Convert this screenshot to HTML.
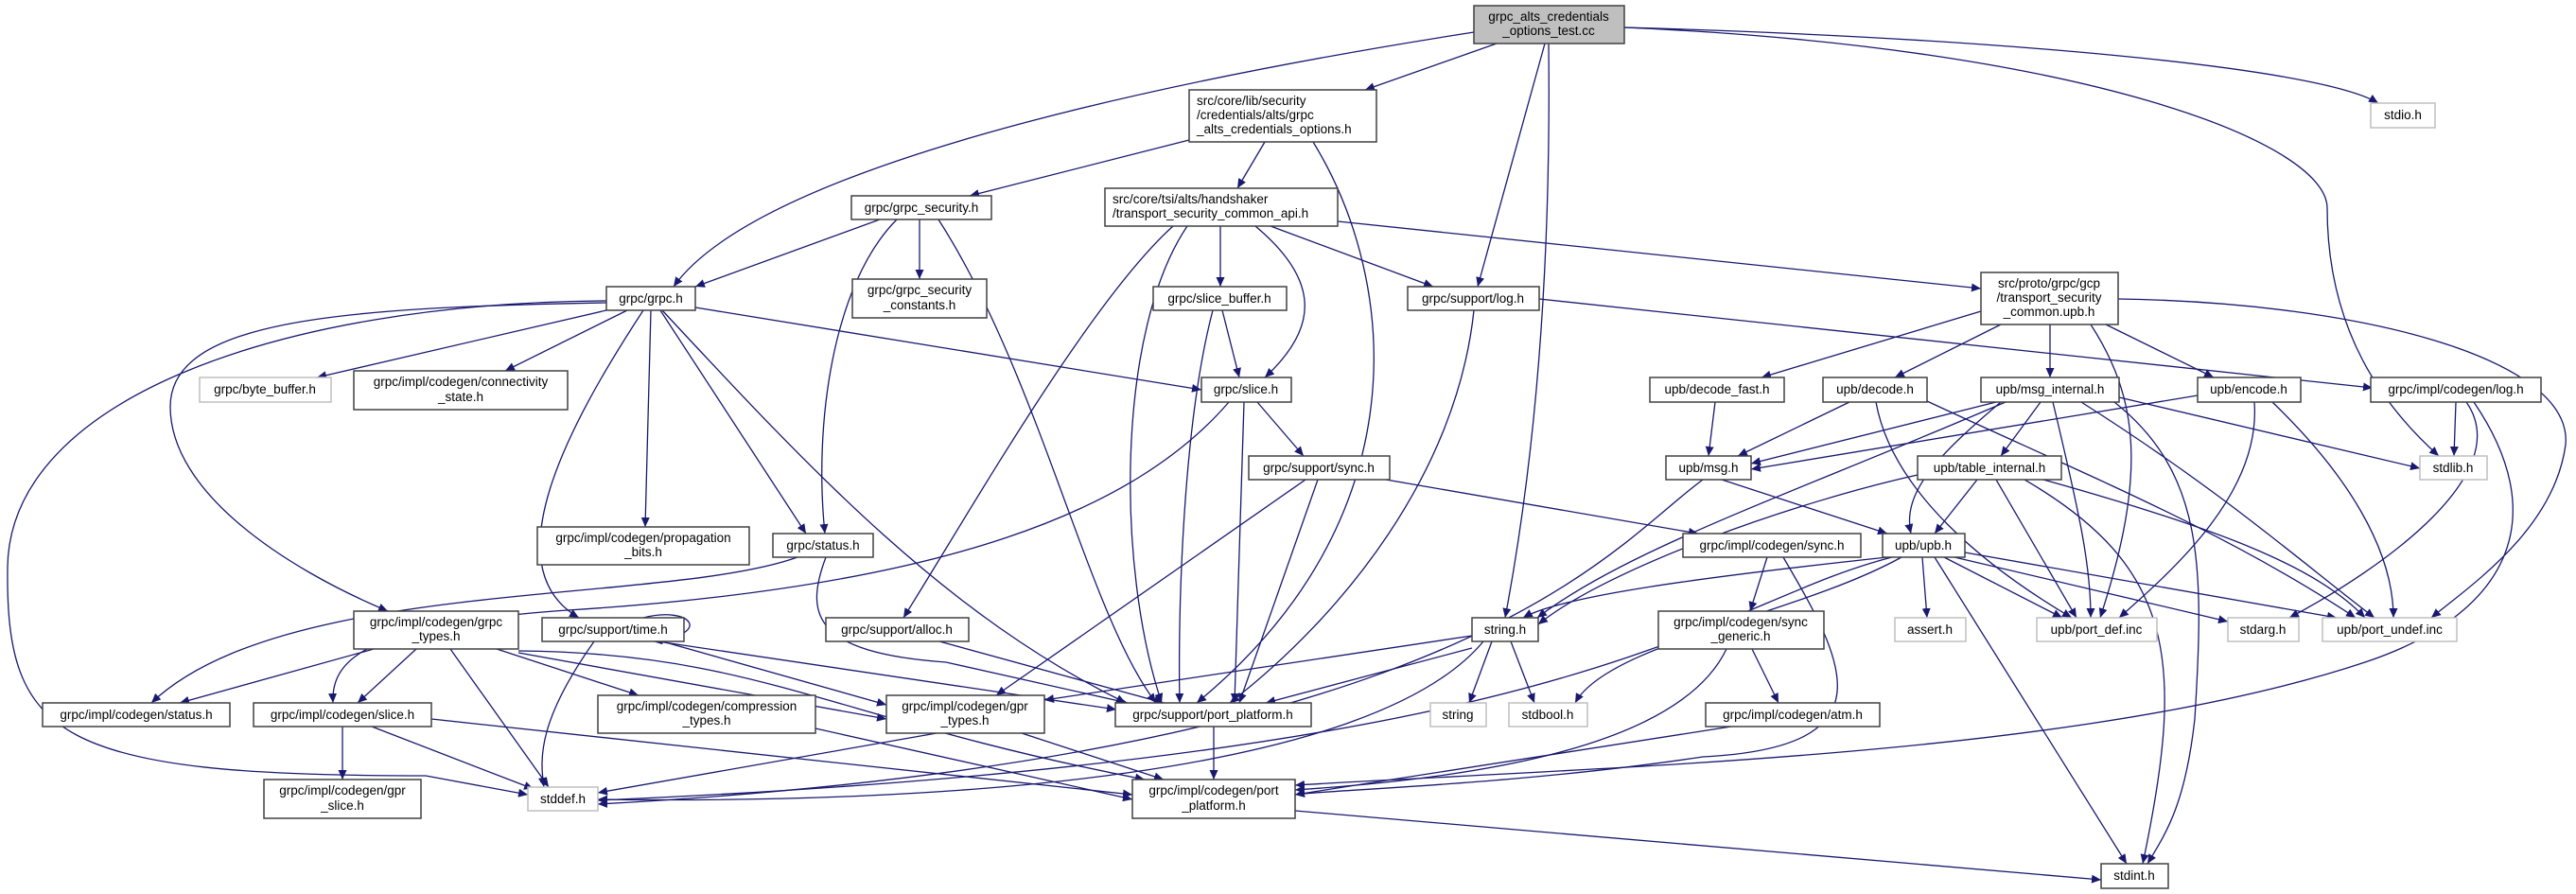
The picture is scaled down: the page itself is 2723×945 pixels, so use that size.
<!DOCTYPE html>
<html><head><meta charset="utf-8"><style>
html,body{margin:0;padding:0;background:#fff;}
svg{display:block;}
text{font-family:"Liberation Sans",sans-serif;font-size:13.5px;fill:#000;}
.n{fill:#fff;stroke:#404040;stroke-width:1.5;}
.g{fill:#fff;stroke:#bfbfbf;stroke-width:1.5;}
.m{fill:#bfbfbf;stroke:#404040;stroke-width:1.5;}
path.e{fill:none;stroke:#191970;stroke-width:1.3;marker-end:url(#a);}
</style></head><body>
<svg width="2723" height="945" viewBox="0 0 2723 945" xmlns="http://www.w3.org/2000/svg">
<defs><marker id="a" markerUnits="userSpaceOnUse" markerWidth="11" markerHeight="9" refX="10" refY="4.5" orient="auto"><path d="M0,0 L10,4.5 L0,9 z" fill="#191970"/></marker></defs>
<g>
<path class="e" d="M1558,34 C1200,90 800,180 712,303"/>
<path class="e" d="M1582,46 L1443,95"/>
<path class="e" d="M1633,46 L1562,303"/>
<path class="e" d="M1637,46 C1640,300 1620,500 1591,653"/>
<path class="e" d="M1717,29 C2100,40 2450,70 2514,109"/>
<path class="e" d="M1717,29 C2200,50 2460,150 2460,220 C2460,350 2520,430 2578,482"/>
<path class="e" d="M1257,148 L1025,207"/>
<path class="e" d="M1337,150 L1308,199"/>
<path class="e" d="M1388,150 C1480,300 1500,550 1265,743"/>
<path class="e" d="M930,232 L735,303"/>
<path class="e" d="M972,232 L972,295"/>
<path class="e" d="M948,232 C880,300 860,450 872,564"/>
<path class="e" d="M992,232 C1100,400 1150,650 1222,743"/>
<path class="e" d="M1290,239 L1290,303"/>
<path class="e" d="M1327,239 C1400,300 1390,350 1337,399"/>
<path class="e" d="M1343,239 L1515,303"/>
<path class="e" d="M1414,234 L2094,305"/>
<path class="e" d="M1240,239 C1150,320 1020,550 955,653"/>
<path class="e" d="M1255,239 C1180,350 1180,600 1228,743"/>
<path class="e" d="M641,328 L335,399"/>
<path class="e" d="M663,328 L534,392"/>
<path class="e" d="M735,325 L1270,412"/>
<path class="e" d="M641,320 C350,325 180,340 180,430 C180,520 300,600 410,646"/>
<path class="e" d="M641,318 C300,320 10,420 8,600 C6,780 60,820 450,820 L558,840"/>
<path class="e" d="M688,328 L682,557"/>
<path class="e" d="M698,328 L852,564"/>
<path class="e" d="M700,328 C860,500 1000,650 1190,743"/>
<path class="e" d="M680,328 C600,450 520,600 612,653"/>
<path class="e" d="M1292,328 L1310,399"/>
<path class="e" d="M1282,328 C1250,450 1245,650 1247,743"/>
<path class="e" d="M1329,425 L1378,482"/>
<path class="e" d="M1315,425 L1305,743"/>
<path class="e" d="M1299,425 C1200,540 1000,620 600,645 C380,660 350,700 352,743"/>
<path class="e" d="M1558,328 C1540,500 1420,650 1300,743"/>
<path class="e" d="M1627,316 L2508,410"/>
<path class="e" d="M1380,507 L1053,735"/>
<path class="e" d="M1393,507 L1310,743"/>
<path class="e" d="M1465,507 L1795,564"/>
<path class="e" d="M993,678 L1230,743"/>
<path class="e" d="M843,589 C700,640 300,610 160,743"/>
<path class="e" d="M873,589 C850,650 860,690 1000,700 L1192,743"/>
<path class="e" d="M395,686 L190,743"/>
<path class="e" d="M440,686 L378,743"/>
<path class="e" d="M476,686 L580,832"/>
<path class="e" d="M525,686 L675,735"/>
<path class="e" d="M548,690 L937,760"/>
<path class="e" d="M548,688 C800,690 880,760 1210,824"/>
<path class="e" d="M628,678 C570,760 570,800 575,832"/>
<path class="e" d="M680,653 C730,640 755,670 690,678"/>
<path class="e" d="M695,678 L1180,750"/>
<path class="e" d="M700,678 L937,745"/>
<path class="e" d="M362,768 L362,824"/>
<path class="e" d="M393,768 L564,834"/>
<path class="e" d="M456,760 L1197,840"/>
<path class="e" d="M862,770 L1197,845"/>
<path class="e" d="M990,775 L632,838"/>
<path class="e" d="M1080,775 L1230,824"/>
<path class="e" d="M1283,768 L1283,824"/>
<path class="e" d="M1577,678 L1553,743"/>
<path class="e" d="M1597,678 L1622,743"/>
<path class="e" d="M1556,685 L1338,743"/>
<path class="e" d="M1556,672 L1104,740"/>
<path class="e" d="M1568,678 C1450,820 1000,850 632,845"/>
<path class="e" d="M1868,589 L1850,646"/>
<path class="e" d="M1885,589 C1950,700 2000,790 1800,800 C1600,830 1400,835 1369,840"/>
<path class="e" d="M1852,686 L1880,743"/>
<path class="e" d="M1825,686 C1780,780 1600,820 1369,835"/>
<path class="e" d="M1830,768 L1369,840"/>
<path class="e" d="M1369,857 L2221,930"/>
<path class="e" d="M2094,329 L1862,399"/>
<path class="e" d="M2115,343 L2003,399"/>
<path class="e" d="M2167,343 L2167,399"/>
<path class="e" d="M2226,343 L2340,399"/>
<path class="e" d="M2210,343 C2260,420 2270,500 2220,653"/>
<path class="e" d="M2239,316 C2500,320 2720,380 2712,470 C2700,560 2610,620 2570,653"/>
<path class="e" d="M1813,425 L1806,482"/>
<path class="e" d="M1955,425 L1837,482"/>
<path class="e" d="M1983,425 C2000,520 2100,600 2190,653"/>
<path class="e" d="M2037,424 C2200,500 2350,560 2490,653"/>
<path class="e" d="M2110,425 L1851,490"/>
<path class="e" d="M2115,425 C2050,480 2010,520 2020,564"/>
<path class="e" d="M2157,425 L2115,482"/>
<path class="e" d="M2120,425 C1900,520 1720,580 1625,653"/>
<path class="e" d="M2170,425 C2200,550 2210,600 2210,653"/>
<path class="e" d="M2200,425 C2350,520 2440,600 2510,653"/>
<path class="e" d="M2240,420 L2558,495"/>
<path class="e" d="M2235,425 C2330,500 2330,600 2320,760 C2310,850 2290,880 2270,913"/>
<path class="e" d="M2323,418 L1851,496"/>
<path class="e" d="M2383,425 C2390,520 2300,600 2240,653"/>
<path class="e" d="M2402,425 C2480,500 2530,580 2530,653"/>
<path class="e" d="M2596,425 L2594,482"/>
<path class="e" d="M2607,425 C2660,500 2520,600 2420,653"/>
<path class="e" d="M2615,425 C2700,550 2650,650 2500,700 C2200,800 1700,810 1369,830"/>
<path class="e" d="M1820,507 L1995,564"/>
<path class="e" d="M1800,507 C1700,580 1550,800 632,850"/>
<path class="e" d="M2090,507 L2045,564"/>
<path class="e" d="M2027,502 C1900,530 1700,600 1626,660"/>
<path class="e" d="M2110,507 L2195,653"/>
<path class="e" d="M2160,507 C2350,560 2450,600 2500,653"/>
<path class="e" d="M2140,507 C2300,600 2310,700 2265,913"/>
<path class="e" d="M1995,589 C1800,610 1650,630 1610,653"/>
<path class="e" d="M2000,589 C1800,640 1700,800 632,846"/>
<path class="e" d="M2010,589 C1900,650 1700,680 1665,743"/>
<path class="e" d="M2032,589 L2037,653"/>
<path class="e" d="M2055,589 L2180,653"/>
<path class="e" d="M2066,589 L2355,657"/>
<path class="e" d="M2077,584 L2470,653"/>
<path class="e" d="M2045,589 L2248,913"/>
</g>
<g text-anchor="middle">
<rect class="m" x="1558" y="6" width="159" height="40"/><text x="1637" y="22">grpc_alts_credentials</text><text x="1637" y="37">_options_test.cc</text>
<rect class="n" x="1257" y="95" width="198" height="55"/><text text-anchor="start" x="1265" y="111">src/core/lib/security</text><text text-anchor="start" x="1265" y="126">/credentials/alts/grpc</text><text text-anchor="start" x="1265" y="141">_alts_credentials_options.h</text>
<rect class="n" x="900" y="207" width="148" height="25"/><text x="974" y="224">grpc/grpc_security.h</text>
<rect class="n" x="1168" y="199" width="246" height="40"/><text text-anchor="start" x="1176" y="215">src/core/tsi/alts/handshaker</text><text text-anchor="start" x="1176" y="230">/transport_security_common_api.h</text>
<rect class="g" x="2506" y="109" width="68" height="26"/><text x="2540" y="126">stdio.h</text>
<rect class="n" x="641" y="303" width="94" height="25"/><text x="688" y="320">grpc/grpc.h</text>
<rect class="n" x="901" y="295" width="142" height="41"/><text x="972" y="311">grpc/grpc_security</text><text x="972" y="327">_constants.h</text>
<rect class="n" x="1219" y="303" width="141" height="25"/><text x="1289" y="320">grpc/slice_buffer.h</text>
<rect class="n" x="1488" y="303" width="139" height="25"/><text x="1557" y="320">grpc/support/log.h</text>
<rect class="n" x="2094" y="288" width="145" height="55"/><text x="2166" y="304">src/proto/grpc/gcp</text><text x="2166" y="319">/transport_security</text><text x="2166" y="334">_common.upb.h</text>
<rect class="g" x="211" y="399" width="139" height="26"/><text x="280" y="416">grpc/byte_buffer.h</text>
<rect class="n" x="374" y="392" width="226" height="41"/><text x="487" y="408">grpc/impl/codegen/connectivity</text><text x="487" y="424">_state.h</text>
<rect class="n" x="1270" y="399" width="95" height="26"/><text x="1317" y="416">grpc/slice.h</text>
<rect class="n" x="1744" y="399" width="142" height="26"/><text x="1815" y="416">upb/decode_fast.h</text>
<rect class="n" x="1927" y="399" width="110" height="26"/><text x="1982" y="416">upb/decode.h</text>
<rect class="n" x="2094" y="399" width="146" height="26"/><text x="2167" y="416">upb/msg_internal.h</text>
<rect class="n" x="2323" y="399" width="109" height="26"/><text x="2377" y="416">upb/encode.h</text>
<rect class="n" x="2506" y="399" width="180" height="26"/><text x="2596" y="416">grpc/impl/codegen/log.h</text>
<rect class="n" x="1320" y="482" width="149" height="25"/><text x="1394" y="499">grpc/support/sync.h</text>
<rect class="n" x="1761" y="482" width="90" height="25"/><text x="1806" y="499">upb/msg.h</text>
<rect class="n" x="2027" y="482" width="152" height="25"/><text x="2103" y="499">upb/table_internal.h</text>
<rect class="g" x="2558" y="482" width="71" height="25"/><text x="2593" y="499">stdlib.h</text>
<rect class="n" x="568" y="557" width="224" height="40"/><text x="680" y="573">grpc/impl/codegen/propagation</text><text x="680" y="588">_bits.h</text>
<rect class="n" x="817" y="564" width="106" height="25"/><text x="870" y="581">grpc/status.h</text>
<rect class="n" x="1779" y="564" width="188" height="25"/><text x="1873" y="581">grpc/impl/codegen/sync.h</text>
<rect class="n" x="1990" y="564" width="87" height="25"/><text x="2033" y="581">upb/upb.h</text>
<rect class="n" x="374" y="646" width="174" height="40"/><text x="461" y="662">grpc/impl/codegen/grpc</text><text x="461" y="677">_types.h</text>
<rect class="n" x="573" y="653" width="150" height="25"/><text x="648" y="670">grpc/support/time.h</text>
<rect class="n" x="873" y="653" width="151" height="25"/><text x="948" y="670">grpc/support/alloc.h</text>
<rect class="n" x="1556" y="653" width="70" height="25"/><text x="1591" y="670">string.h</text>
<rect class="n" x="1753" y="646" width="175" height="40"/><text x="1840" y="662">grpc/impl/codegen/sync</text><text x="1840" y="677">_generic.h</text>
<rect class="g" x="2003" y="653" width="75" height="25"/><text x="2040" y="670">assert.h</text>
<rect class="g" x="2153" y="653" width="127" height="25"/><text x="2216" y="670">upb/port_def.inc</text>
<rect class="g" x="2355" y="653" width="75" height="25"/><text x="2392" y="670">stdarg.h</text>
<rect class="g" x="2455" y="653" width="142" height="25"/><text x="2526" y="670">upb/port_undef.inc</text>
<rect class="n" x="45" y="743" width="198" height="25"/><text x="144" y="760">grpc/impl/codegen/status.h</text>
<rect class="n" x="268" y="743" width="188" height="25"/><text x="362" y="760">grpc/impl/codegen/slice.h</text>
<rect class="n" x="632" y="735" width="230" height="40"/><text x="747" y="751">grpc/impl/codegen/compression</text><text x="747" y="766">_types.h</text>
<rect class="n" x="937" y="735" width="167" height="40"/><text x="1020" y="751">grpc/impl/codegen/gpr</text><text x="1020" y="766">_types.h</text>
<rect class="n" x="1179" y="743" width="207" height="25"/><text x="1282" y="760">grpc/support/port_platform.h</text>
<rect class="g" x="1512" y="743" width="59" height="25"/><text x="1541" y="760">string</text>
<rect class="g" x="1595" y="743" width="83" height="25"/><text x="1636" y="760">stdbool.h</text>
<rect class="n" x="1803" y="743" width="184" height="25"/><text x="1895" y="760">grpc/impl/codegen/atm.h</text>
<rect class="n" x="279" y="824" width="166" height="41"/><text x="362" y="840">grpc/impl/codegen/gpr</text><text x="362" y="856">_slice.h</text>
<rect class="g" x="558" y="832" width="74" height="25"/><text x="595" y="849">stddef.h</text>
<rect class="n" x="1197" y="824" width="172" height="41"/><text x="1283" y="840">grpc/impl/codegen/port</text><text x="1283" y="856">_platform.h</text>
<rect class="n" x="2221" y="913" width="71" height="26"/><text x="2256" y="930">stdint.h</text>
</g>
</svg>
</body></html>
